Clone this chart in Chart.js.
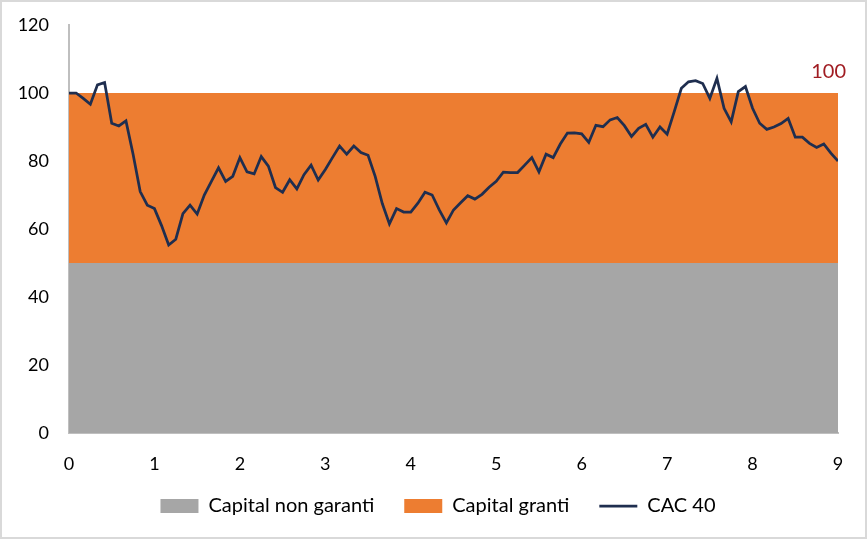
<!DOCTYPE html>
<html>
<head>
<meta charset="utf-8">
<script src="https://cdn.jsdelivr.net/npm/chart.js@4"></script>
<style>
  html, body { margin: 0; padding: 0; background: #fff; }
  .cadre { width: 867px; height: 539px; box-sizing: border-box; border: 2px solid #d9d9d9; position: relative; }
</style>
</head>
<body>
<div class="cadre"><canvas id="graphique"></canvas></div>
<script>
// Données (valeurs mensuelles sur 9 ans)
const annees = [0, 1, 2, 3, 4, 5, 6, 7, 8, 9];
const bornesX = [0, 9];
const capitalNonGaranti = [50, 50];
const capitalGaranti = [100, 100];
const cac40 = [
  100, 100, 98.4, 96.7, 102.4, 103.1, 91.1, 90.3, 91.8, 82, 71, 67,
  66, 61, 55.3, 57, 64.5, 67, 64.4, 70, 74, 78, 74, 75.5,
  81, 76.8, 76.2, 81.3, 78.5, 72.2, 70.8, 74.5, 71.8, 76, 78.8, 74.4,
  77.5, 81, 84.4, 82, 84.4, 82.5, 81.7, 75.5, 67.5, 61.5, 66, 65,
  65, 67.6, 70.8, 70, 65.6, 61.8, 65.6, 67.7, 69.8, 68.8, 70.2, 72.3,
  74, 76.7, 76.6, 76.6, 78.8, 81, 76.8, 82, 81, 85, 88.2, 88.3,
  88, 85.5, 90.5, 90.1, 92.1, 92.8, 90.4, 87.2, 89.6, 90.8, 87, 90,
  87.9, 94.5, 101.4, 103.3, 103.6, 102.8, 98.4, 104.3, 95.5, 91.5, 100.4, 101.9,
  95.5, 91.1, 89.3, 90, 91, 92.5, 87, 87, 85.2, 84, 85, 82.3,
  80
];
const etiquetteNiveau = '100';

const police = "'Lato', 'Open Sans', sans-serif";

// points {x, y} : un point par mois
const pointsCac = cac40.map((v, i) => ({ x: i / 12, y: v }));
const pointsBas = bornesX.map((x, i) => ({ x: x, y: capitalNonGaranti[i] }));
const pointsHaut = bornesX.map((x, i) => ({ x: x, y: capitalGaranti[i] }));

// Libellé "100" au-dessus du niveau garanti + petits ajustements de mise en page
const libelle100 = {
  id: 'libelle100',
  afterLayout(chart) {
    // laisser les étiquettes de l'axe x déborder sous la boîte de l'axe
    chart.scales.x.bottom = chart.height;
    // légende centrée un peu plus à droite, comme l'original
    chart.legend.left += 18;
    chart.legend.right += 18;
  },
  afterDraw(chart) {
    const { ctx, scales } = chart;
    const x = scales.x.getPixelForValue(bornesX[1]) + 8;
    const y = scales.y.getPixelForValue(capitalGaranti[1]) - 21;
    ctx.save();
    ctx.font = '20px ' + police;
    ctx.fillStyle = '#a01c22';
    ctx.textAlign = 'right';
    ctx.textBaseline = 'middle';
    ctx.fillText(etiquetteNiveau, x, y);
    ctx.restore();
  }
};

new Chart(document.getElementById('graphique'), {
  type: 'line',
  data: {
    datasets: [
      {
        label: 'Capital non garanti',
        data: pointsBas,
        backgroundColor: '#a6a6a6',
        borderColor: '#a6a6a6',
        borderWidth: 0,
        pointRadius: 0,
        pointStyle: 'rect',
        fill: 'origin',
        order: 3
      },
      {
        label: 'Capital granti',
        data: pointsHaut,
        backgroundColor: '#ed7d31',
        borderColor: '#ed7d31',
        borderWidth: 0,
        pointRadius: 0,
        pointStyle: 'rect',
        fill: '-1',
        order: 2
      },
      {
        label: 'CAC 40',
        data: pointsCac,
        borderColor: '#1f2e4f',
        backgroundColor: '#1f2e4f',
        borderWidth: 2.75,
        pointRadius: 0,
        pointStyle: 'line',
        fill: false,
        tension: 0,
        order: 1
      }
    ]
  },
  options: {
    responsive: true,
    maintainAspectRatio: false,
    animation: false,
    layout: { padding: { top: 23, right: 27, bottom: 11, left: 0 } },
    plugins: {
      tooltip: { enabled: false },
      legend: {
        position: 'bottom',
        labels: {
          usePointStyle: true,
          pointStyleWidth: 38,
          boxHeight: 14,
          padding: 30,
          color: '#000',
          font: { size: 20, family: police },
          sort: (a, b) => a.datasetIndex - b.datasetIndex
        }
      }
    },
    scales: {
      x: {
        type: 'linear',
        min: 0,
        max: 9,
        afterBuildTicks(scale) { scale.ticks = annees.map(v => ({ value: v })); },
        afterFit(scale) { scale.height = 33; },
        grid: { display: false, drawTicks: false },
        border: { display: true, color: '#bfbfbf', width: 2 },
        ticks: { padding: 20, color: '#000', font: { size: 18, family: police } }
      },
      y: {
        min: 0,
        max: 120,
        afterFit(scale) {
          scale.width = 67;
          scale.paddingTop = 0;
          scale.paddingBottom = 0;
        },
        grid: { display: false, drawTicks: false },
        border: { display: true, color: '#bfbfbf', width: 2 },
        ticks: { stepSize: 20, padding: 20, color: '#000', font: { size: 18, family: police } }
      }
    }
  },
  plugins: [libelle100]
});
</script>
</body>
</html>
